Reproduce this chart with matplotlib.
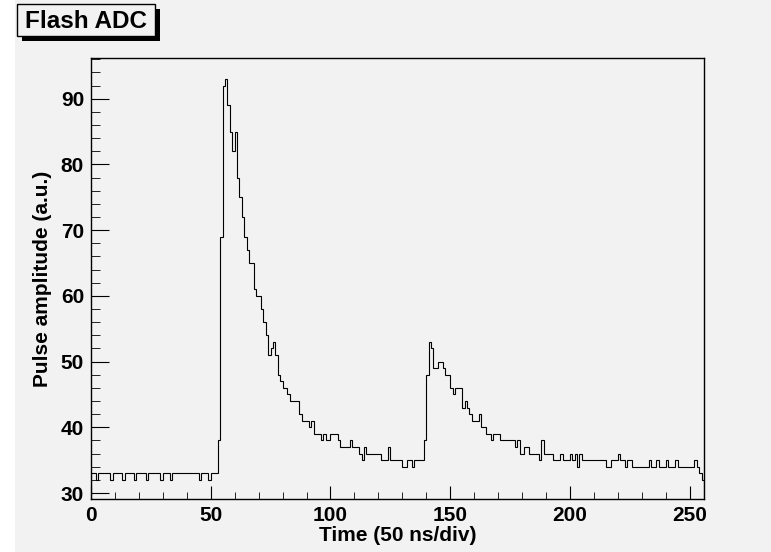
import numpy as np
import matplotlib.pyplot as plt
from matplotlib.patches import Rectangle

# Flash ADC samples, one value per 50 ns bin
baseline = [33, 33, 32, 33, 33, 33, 33, 33, 32, 33,
            33, 33, 33, 32, 33, 33, 33, 33, 32, 33,
            33, 33, 33, 32, 33, 33, 33, 33, 33, 32,
            33, 33, 33, 32, 33, 33, 33, 33, 33, 33,
            33, 33, 33, 33, 33, 32, 33, 33, 33, 32,
            33, 33, 33]
first_pulse = [38, 69, 92, 93, 89, 85, 82, 85, 78, 75,
               72, 69, 67, 65, 65, 61, 60, 60, 58, 56,
               54, 51, 52, 53, 51, 48, 47, 46, 46, 45,
               44, 44, 44, 44, 42, 41, 41, 41, 40, 41,
               39, 39, 39, 38, 39, 38, 38, 39, 39, 39,
               38, 37, 37, 37, 37, 38, 37, 37, 37, 36,
               35, 37, 36, 36, 36, 36, 36, 36, 35, 35,
               35, 37, 35, 35, 35, 35, 35, 34, 34, 35,
               35, 34, 35, 35, 35, 35]
second_pulse = [38, 48, 53, 52, 49, 49, 50, 50, 49, 48,
                48, 46, 45, 46, 46, 46, 43, 44, 43, 42,
                41, 41, 41, 42, 40, 40, 39, 39, 38, 39,
                39, 39, 38, 38, 38, 38, 38, 38, 37, 38,
                36, 36, 37, 37, 36, 36, 36, 36, 35, 38,
                36, 36, 36, 36, 35, 35, 35, 36, 35, 35,
                35, 36, 35, 36, 34, 36]
tail = [35, 35, 35, 35, 35, 35, 35, 35, 35, 35,
        34, 34, 35, 35, 35, 36, 35, 35, 34, 35,
        35, 34, 34, 34, 34, 34, 34, 34, 35, 34,
        34, 35, 34, 34, 34, 35, 34, 34, 34, 35,
        34, 34, 34, 34, 34, 34, 34, 35, 34, 33,
        32]

samples = baseline + first_pulse + second_pulse + tail
edges = np.arange(len(samples) + 1)

bg = '#f2f2f2'
plt.rcParams['font.family'] = ['Liberation Sans', 'DejaVu Sans']
plt.rcParams['font.weight'] = 'bold'

fig = plt.figure(figsize=(7.71, 5.52), dpi=100, facecolor='white')
fig.patches.append(Rectangle((15 / 771, 0), 1, 1, transform=fig.transFigure,
                             facecolor=bg, edgecolor='none', zorder=-10))

ax = fig.add_axes([91 / 771, 1 - 499 / 552, 613 / 771, 441 / 552])
ax.set_facecolor(bg)
ax.stairs(samples, edges, color='black', linewidth=0.8)

ax.set_xlim(0, len(samples))
ax.set_ylim(29.09, 96.19)
ax.set_xticks(np.arange(0, 251, 50))
ax.set_xticks(np.arange(0, 256, 10), minor=True)
ax.set_yticks(np.arange(30, 91, 10))
ax.set_yticks(np.arange(30, 97, 2), minor=True)
ax.tick_params(axis='both', which='both', direction='in', labelsize=15, color='black')
ax.tick_params(axis='x', which='major', length=9.5, pad=5)
ax.tick_params(axis='x', which='minor', length=5)
ax.tick_params(axis='y', which='major', length=13, pad=5)
ax.tick_params(axis='y', which='minor', length=6.5)
for lab in ax.get_xticklabels() + ax.get_yticklabels():
    lab.set_fontweight('bold')
for s in ax.spines.values():
    s.set_linewidth(1.0)

ax.set_xlabel('Time (50 ns/div)', fontsize=15, fontweight='bold', labelpad=1)
ax.set_ylabel('Pulse amplitude (a.u.)', fontsize=15, fontweight='bold', labelpad=6)

# title box with drop shadow, ROOT style
fig.patches.append(Rectangle((22 / 771, 1 - 41 / 552), 138 / 771, 32 / 552,
                             transform=fig.transFigure, facecolor='black',
                             edgecolor='none', zorder=5))
fig.patches.append(Rectangle((17 / 771, 1 - 36 / 552), 138 / 771, 32 / 552,
                             transform=fig.transFigure, facecolor=bg,
                             edgecolor='black', linewidth=1.0, zorder=6))
fig.text(86 / 771, 1 - 21 / 552, 'Flash ADC', fontsize=17.5, fontweight='bold',
         ha='center', va='center', zorder=7)

fig.savefig('out.png', dpi=100, facecolor=fig.get_facecolor())
